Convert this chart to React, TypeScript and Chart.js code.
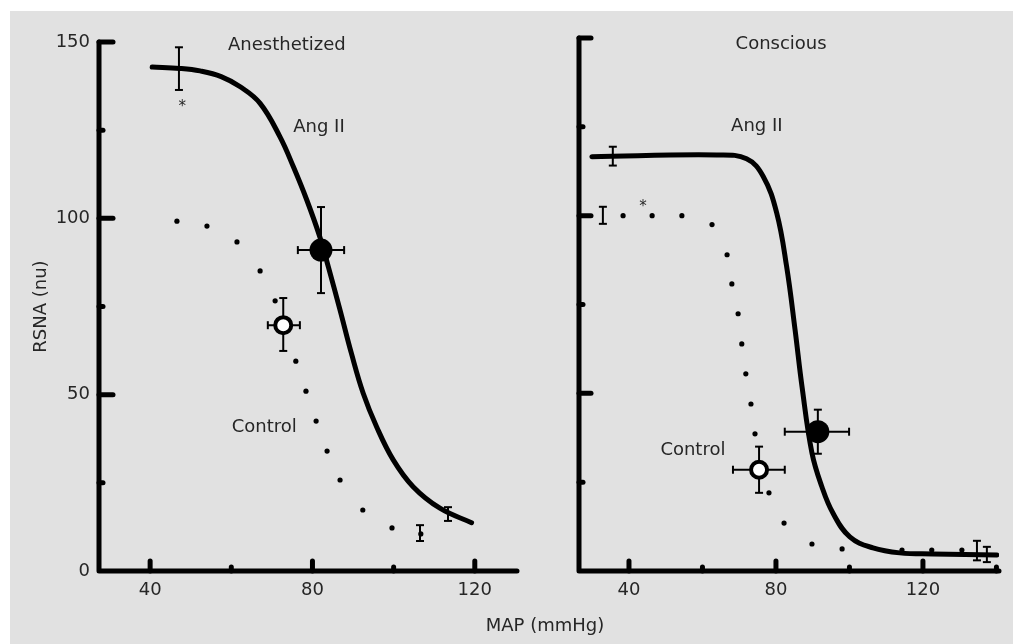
import React, { useEffect, useRef } from "react";
import { Chart, registerables } from "chart.js";

Chart.register(...registerables);

// ---------- shared axis values ----------
const xTickValues = [40, 80, 120];
const yTickValues = [0, 50, 100, 150];
const yMinorTicks = [25, 75, 125];
const anesXMinor = [60, 100];
const consXMinor = [60, 100, 140];

// ---------- Anesthetized panel ----------
const anesAngX = [40.5, 47.4, 52.3, 57.5, 62.2, 67.1, 72.0, 75.3, 78.6, 81.8, 83.9, 86.8, 89.6, 92.5, 95.8, 99.9, 104.8, 111.4, 119.2];
const anesAngY = [142.9, 142.5, 141.8, 140.2, 137.3, 132.6, 123.1, 114.6, 105.2, 94.8, 86.3, 74.0, 61.7, 50.4, 40.9, 31.5, 23.9, 17.8, 13.7];
const anesCtrlX = [46.6, 54.0, 61.4, 67.1, 70.8, 75.9, 78.4, 80.9, 83.6, 86.8, 92.4, 99.6, 106.7];
const anesCtrlY = [99.2, 97.8, 93.3, 85.1, 76.6, 59.5, 51.0, 42.5, 34.0, 25.8, 17.3, 12.2, 10.5];
// vertical error bars: x, low, high
const anesErrX = [47.1, 113.4, 106.5];
const anesErrLo = [136.4, 14.2, 8.5];
const anesErrHi = [148.5, 18.1, 13.0];
// means (filled = Ang II, open = Control): x, y, y-range, x-range
const anesMeanAng = { x: 82.1, y: 91.0, yLo: 78.8, yHi: 103.2, xLo: 76.4, xHi: 87.8 };
const anesMeanCtrl = { x: 72.8, y: 69.7, yLo: 62.4, yHi: 77.4, xLo: 69.0, xHi: 76.9 };
const anesLabels = [
  { text: "Anesthetized", x: 73.7, y: 149.1 },
  { text: "Ang II", x: 81.6, y: 125.9 },
  { text: "Control", x: 68.1, y: 40.8 },
];
const anesStars = [{ x: 47.9, y: 131.6 }];

// ---------- Conscious panel ----------
const consAngX = [29.9, 63.9, 72.0, 76.5, 80.2, 82.9, 85.2, 87.1, 89.8, 92.5, 95.5, 100.1, 106.4, 113.7, 122.7, 140.1];
const consAngY = [116.6, 117.1, 116.0, 111.1, 100.8, 85.7, 67.9, 51.8, 33.2, 23.7, 16.3, 9.6, 6.5, 5.1, 4.8, 4.5];
const consCtrlX = [38.4, 46.3, 54.4, 62.6, 66.7, 68.0, 69.7, 70.7, 71.8, 73.2, 74.3, 78.1, 82.2, 89.8, 98.0, 114.3, 122.4, 130.6];
const consCtrlY = [100, 100, 100, 97.5, 89.0, 80.8, 72.4, 63.9, 55.5, 47.0, 38.6, 22.0, 13.5, 7.6, 6.2, 5.9, 5.9, 5.9];
const consErrX = [35.6, 32.9, 134.7, 137.4];
const consErrLo = [114.1, 97.7, 3.0, 2.5];
const consErrHi = [119.4, 102.5, 8.5, 6.8];
const consMeanAng = { x: 91.4, y: 39.2, yLo: 33.0, yHi: 45.4, xLo: 82.4, xHi: 99.9 };
const consMeanCtrl = { x: 75.4, y: 28.5, yLo: 22.0, yHi: 35.0, xLo: 68.3, xHi: 82.4 };
const consLabels = [
  { text: "Conscious", x: 81.4, y: 148.2 },
  { text: "Ang II", x: 74.8, y: 125.1 },
  { text: "Control", x: 57.4, y: 34.1 },
];
const consStars = [{ x: 43.8, y: 102.3 }];

const FONT = '"DejaVu Sans", "Liberation Sans", sans-serif';
const TEXT = "#262626";
const BG = "#e1e1e1";

const zip = (xs: number[], ys: number[]) => xs.map((x, i) => ({ x, y: ys[i] }));

const figurePlugin = {
  id: "figure",
  beforeDatasetsDraw(chart: any) {
    const o = chart.options.plugins.figure;
    if (!o) return;
    const ctx = chart.ctx as CanvasRenderingContext2D;
    const xs = chart.scales.x;
    const ys = chart.scales.y;
    const x0 = xs.left;
    const xr = xs.right;
    const yb = ys.bottom;
    const yt = ys.top;
    const line = (a: number, b: number, c: number, d: number) => {
      ctx.beginPath();
      ctx.moveTo(a, b);
      ctx.lineTo(c, d);
      ctx.stroke();
    };
    ctx.save();
    ctx.strokeStyle = "#000";
    ctx.lineCap = "round";
    ctx.lineJoin = "round";
    ctx.lineWidth = 5;
    ctx.beginPath();
    ctx.moveTo(x0, yt);
    ctx.lineTo(x0, yb);
    ctx.lineTo(xr, yb);
    ctx.stroke();
    for (const v of yTickValues) {
      if (v === 0) continue;
      const py = ys.getPixelForValue(v);
      line(x0, py, x0 + o.yMajorLen, py);
    }
    for (const v of yMinorTicks) {
      const py = ys.getPixelForValue(v);
      line(x0, py, x0 + 4, py);
    }
    for (const v of xTickValues) {
      const px = xs.getPixelForValue(v);
      line(px, yb, px, yb - 10);
    }
    for (const v of o.xMinor) {
      const px = xs.getPixelForValue(v);
      line(px, yb, px, yb - 4);
    }
    // error bars
    ctx.lineWidth = 2;
    ctx.lineCap = "butt";
    const cap = 4;
    const vbar = (x: number, lo: number, hi: number) => {
      const px = xs.getPixelForValue(x);
      const p1 = ys.getPixelForValue(lo);
      const p2 = ys.getPixelForValue(hi);
      line(px, p1, px, p2);
      line(px - cap, p1, px + cap, p1);
      line(px - cap, p2, px + cap, p2);
    };
    const hbar = (y: number, lo: number, hi: number) => {
      const py = ys.getPixelForValue(y);
      const p1 = xs.getPixelForValue(lo);
      const p2 = xs.getPixelForValue(hi);
      line(p1, py, p2, py);
      line(p1, py - cap, p1, py + cap);
      line(p2, py - cap, p2, py + cap);
    };
    o.errX.forEach((x: number, i: number) => vbar(x, o.errLo[i], o.errHi[i]));
    for (const m of o.means) {
      vbar(m.x, m.yLo, m.yHi);
      hbar(m.y, m.xLo, m.xHi);
    }
    ctx.restore();
  },
  afterDatasetsDraw(chart: any) {
    const o = chart.options.plugins.figure;
    if (!o) return;
    const ctx = chart.ctx as CanvasRenderingContext2D;
    const xs = chart.scales.x;
    const ys = chart.scales.y;
    ctx.save();
    ctx.fillStyle = TEXT;
    ctx.textAlign = "center";
    ctx.textBaseline = "middle";
    ctx.font = `18px ${FONT}`;
    for (const l of o.labels) {
      ctx.fillText(l.text, xs.getPixelForValue(l.x), ys.getPixelForValue(l.y));
    }
    ctx.font = `15px ${FONT}`;
    for (const s of o.stars) {
      ctx.fillText("*", xs.getPixelForValue(s.x), ys.getPixelForValue(s.y));
    }
    ctx.restore();
  },
};

type PanelProps = {
  width: number;
  left: number;
  top: number;
  padTop: number;
  padRight: number;
  axisWidth: number;
  xMin: number;
  xMax: number;
  showY: boolean;
  angX: number[];
  angY: number[];
  ctrlX: number[];
  ctrlY: number[];
  errX: number[];
  errLo: number[];
  errHi: number[];
  meanAng: any;
  meanCtrl: any;
  labels: any[];
  stars: any[];
  xMinor: number[];
  yMajorLen: number;
};

function Panel(p: PanelProps) {
  const ref = useRef<HTMLCanvasElement>(null);
  useEffect(() => {
    if (!ref.current) return;
    const chart = new Chart(ref.current, {
      type: "line",
      data: {
        datasets: [
          {
            type: "scatter",
            data: [{ x: p.meanAng.x, y: p.meanAng.y }],
            pointRadius: 11.5,
            pointBackgroundColor: "#000",
            pointBorderWidth: 0,
          } as any,
          {
            type: "scatter",
            data: [{ x: p.meanCtrl.x, y: p.meanCtrl.y }],
            pointRadius: 8,
            pointBackgroundColor: "#fff",
            pointBorderColor: "#000",
            pointBorderWidth: 4,
          } as any,
          {
            type: "line",
            data: zip(p.angX, p.angY),
            borderColor: "#000",
            borderWidth: 5,
            pointRadius: 0,
            fill: false,
            tension: 0.4,
            borderCapStyle: "round",
            borderJoinStyle: "round",
          } as any,
          {
            type: "scatter",
            data: zip(p.ctrlX, p.ctrlY),
            pointRadius: 2.6,
            pointBackgroundColor: "#000",
            pointBorderWidth: 0,
          } as any,
        ],
      },
      options: {
        animation: false,
        responsive: false,
        maintainAspectRatio: false,
        events: [],
        layout: { padding: { top: p.padTop, right: p.padRight, left: 0, bottom: 0 } },
        plugins: {
          legend: { display: false },
          tooltip: { enabled: false },
          figure: {
            errX: p.errX,
            errLo: p.errLo,
            errHi: p.errHi,
            means: [p.meanAng, p.meanCtrl],
            labels: p.labels,
            stars: p.stars,
            xMinor: p.xMinor,
            yMajorLen: p.yMajorLen,
          },
        } as any,
        scales: {
          x: {
            type: "linear",
            min: p.xMin,
            max: p.xMax,
            grid: { display: false, drawTicks: false },
            border: { display: false },
            ticks: { color: TEXT, font: { family: FONT, size: 18 }, padding: 9 },
            afterBuildTicks: (s: any) => {
              s.ticks = xTickValues.map((v) => ({ value: v }));
            },
            afterFit: (s: any) => {
              s.height = 73;
            },
          },
          y: {
            type: "linear",
            min: 0,
            max: 150,
            grid: { display: false, drawTicks: false },
            border: { display: false },
            ticks: { display: p.showY, color: TEXT, font: { family: FONT, size: 18 }, padding: 9 },
            afterBuildTicks: (s: any) => {
              s.ticks = yTickValues.map((v) => ({ value: v }));
            },
            afterFit: (s: any) => {
              s.width = p.axisWidth;
            },
            title: {
              display: p.showY,
              text: "RSNA (nu)",
              color: TEXT,
              font: { family: FONT, size: 18 },
              padding: { top: 31, bottom: 0 },
            },
          },
        } as any,
      },
      plugins: [figurePlugin as any],
    });
    return () => chart.destroy();
  }, []);
  return (
    <canvas
      ref={ref}
      width={p.width}
      height={644}
      style={{ position: "absolute", left: p.left, top: p.top, width: p.width, height: 644 }}
    />
  );
}

export default function App() {
  return (
    <div style={{ position: "absolute", left: 0, top: 0, width: 1013, height: 644, overflow: "hidden", background: "#fff" }}>
      <div style={{ position: "absolute", left: 10, top: 11, width: 1003, height: 633, background: BG }} />
      <Panel
        width={540}
        left={0}
        top={0}
        padTop={42}
        padRight={23}
        axisWidth={99}
        xMin={27.4}
        xMax={130.4}
        showY={true}
        angX={anesAngX}
        angY={anesAngY}
        ctrlX={anesCtrlX}
        ctrlY={anesCtrlY}
        errX={anesErrX}
        errLo={anesErrLo}
        errHi={anesErrHi}
        meanAng={anesMeanAng}
        meanCtrl={anesMeanCtrl}
        labels={anesLabels}
        stars={anesStars}
        xMinor={anesXMinor}
        yMajorLen={14}
      />
      <Panel
        width={473}
        left={540}
        top={0}
        padTop={38}
        padRight={14}
        axisWidth={39}
        xMin={26.4}
        xMax={140.7}
        showY={false}
        angX={consAngX}
        angY={consAngY}
        ctrlX={consCtrlX}
        ctrlY={consCtrlY}
        errX={consErrX}
        errLo={consErrLo}
        errHi={consErrHi}
        meanAng={consMeanAng}
        meanCtrl={consMeanCtrl}
        labels={consLabels}
        stars={consStars}
        xMinor={consXMinor}
        yMajorLen={12}
      />
      <div
        style={{
          position: "absolute",
          left: 445,
          width: 200,
          top: 614,
          textAlign: "center",
          font: `18px ${FONT}`,
          color: TEXT,
          lineHeight: "22px",
        }}
      >
        MAP (mmHg)
      </div>
    </div>
  );
}
